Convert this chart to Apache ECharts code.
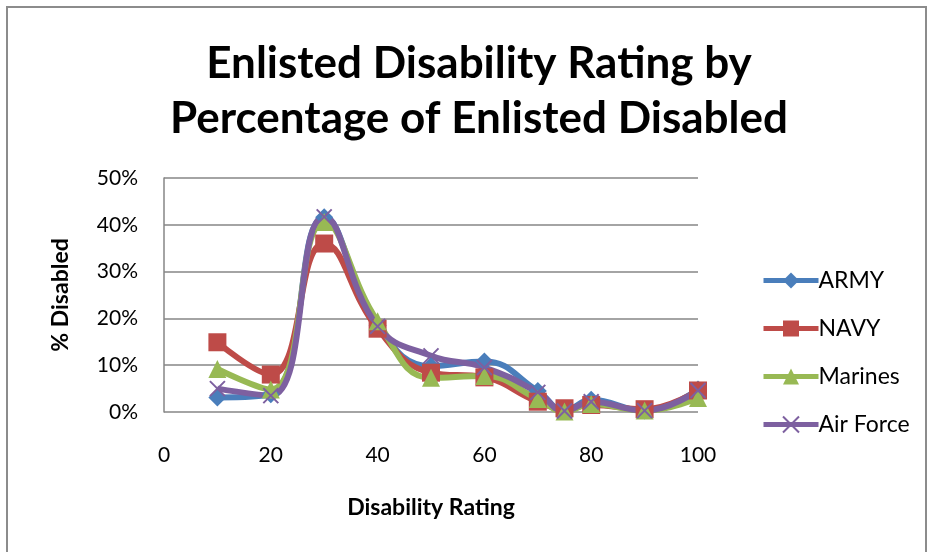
<!DOCTYPE html>
<html>
<head>
<meta charset="utf-8">
<script src="https://cdn.jsdelivr.net/npm/echarts@6/dist/echarts.min.js"></script>
<style>
html,body{margin:0;padding:0;background:#fff;}
#chart{width:933px;height:552px;}
</style>
</head>
<body>
<div id="chart"></div>
<script>
// disability rating (x) and share of enlisted disabled (%) per branch
var ratings  = [10, 20, 30, 40, 50, 60, 70, 75, 80, 90, 100];
var army     = [3.1, 3.8, 41.6, 18.5, 9.8, 10.8, 4.5, 0.3, 2.6, 0.3, 4.8];
var navy     = [14.9, 8.0, 36.0, 17.8, 8.4, 7.4, 2.2, 0.8, 1.5, 0.6, 4.6];
var marines  = [9.2, 4.8, 40.6, 19.4, 7.3, 7.7, 2.8, 0.1, 1.7, 0.3, 3.0];
var airForce = [5.0, 3.5, 41.7, 18.3, 12.0, 9.5, 4.2, 0.2, 2.2, 0.3, 4.6];
var yTicks = [0, 10, 20, 30, 40, 50];

var font = 'Lato';
var crossPath = 'path://M0,0L10,10M10,0L0,10';

function pairs(vals){
    return vals.map(function(v,i){ return [ratings[i], v]; });
}

function mkSeries(name, vals, color, symbol, size){
    return {
        name: name,
        type: 'line',
        smooth: 0.45,
        data: pairs(vals),
        symbol: symbol,
        symbolSize: size,
        lineStyle: {color: color, width: 6},
        itemStyle: {color: color, borderColor: color, borderWidth: symbol===crossPath?2:0},
        emphasis: {disabled: true}
    };
}

var myChart = echarts.init(document.getElementById('chart'));
myChart.setOption({
    animation: false,
    backgroundColor: '#fff',
    graphic: [{
        type: 'rect',
        shape: {x: 7, y: 7, width: 919, height: 600},
        style: {fill: 'none', stroke: '#8c8c8c', lineWidth: 2},
        silent: true
    }],
    title: {
        text: 'Enlisted Disability Rating by\nPercentage of Enlisted Disabled',
        left: 474, top: 31, textAlign: 'center',
        textStyle: {fontFamily: font, fontWeight: 'bold', fontSize: 44, lineHeight: 55, color: '#000'}
    },
    legend: {
        orient: 'vertical',
        left: 756, top: 264,
        itemWidth: 55, itemHeight: 20, itemGap: 25,
        lineStyle: {width: 5},
        textStyle: {fontFamily: font, fontSize: 23, color: '#000', padding: [0,0,0,-5]},
        data: ['ARMY', 'NAVY', 'Marines', 'Air Force']
    },
    grid: {left: 164, right: 235, top: 178, bottom: 140},
    xAxis: {
        type: 'value', min: 0, max: 100, interval: 20,
        name: 'Disability Rating', nameLocation: 'middle', nameGap: 84,
        nameTextStyle: {fontFamily: font, fontWeight: 'bold', fontSize: 23, color: '#000'},
        axisLine: {show: false}, axisTick: {show: false}, splitLine: {show: false},
        axisLabel: {fontFamily: font, fontSize: 21, color: '#000', margin: 33}
    },
    yAxis: {
        type: 'value', min: yTicks[0], max: yTicks[yTicks.length-1], interval: 10,
        name: '% Disabled', nameLocation: 'middle', nameGap: 92, nameRotate: 90,
        nameTextStyle: {fontFamily: font, fontWeight: 'bold', fontSize: 23, color: '#000'},
        axisLine: {show: true, lineStyle: {color: '#868686', width: 1.5}},
        axisTick: {show: false},
        splitLine: {lineStyle: {color: '#868686', width: 1.5}},
        axisLabel: {fontFamily: font, fontSize: 21, color: '#000', margin: 26, formatter: '{value}%'}
    },
    series: [
        mkSeries('ARMY', army, '#4a7ebb', 'diamond', 18),
        mkSeries('NAVY', navy, '#be4b48', 'rect', 18),
        mkSeries('Marines', marines, '#98b954', 'triangle', 18),
        mkSeries('Air Force', airForce, '#7d60a0', crossPath, 15)
    ]
});
</script>
</body>
</html>
